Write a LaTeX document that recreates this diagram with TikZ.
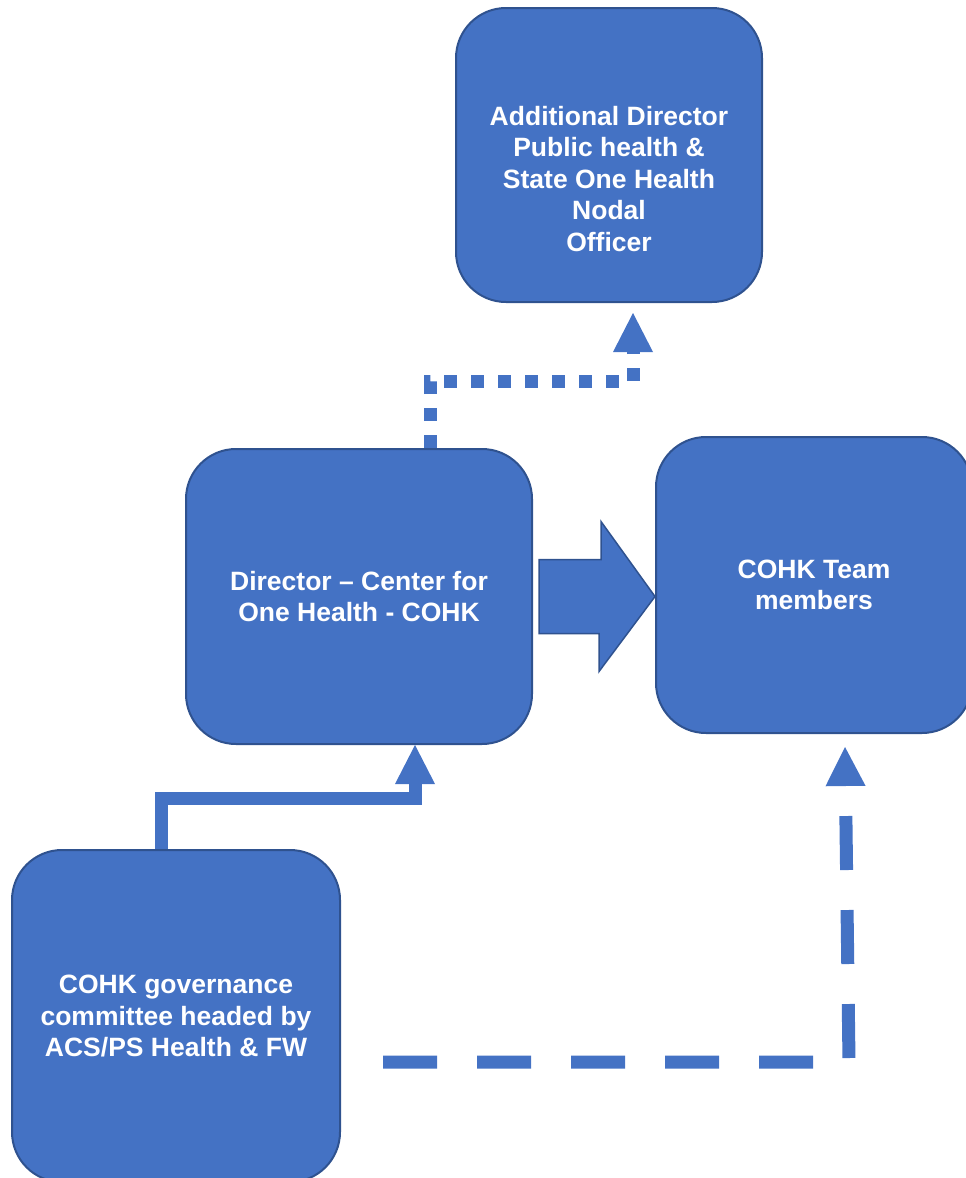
\documentclass[tikz,border=0pt]{standalone}
\usepackage{fontspec}
\setmainfont{Liberation Sans}
\usetikzlibrary{arrows.meta,positioning}
\definecolor{boxblue}{HTML}{4472C4}
\definecolor{boxline}{HTML}{2F528F}

\begin{document}
\begin{tikzpicture}[x=1pt, y=-1pt,
  box/.style={draw=boxline, fill=boxblue, line width=2pt, rounded corners=50pt, inner sep=0pt},
  boxtext/.style={text=white, font=\fontsize{26.5}{31.5}\selectfont\bfseries, align=center},
  arrowhead/.style={-{Triangle[width=40pt, length=39pt, line width=0pt]}},
  conn/.style={boxblue, line width=13pt, arrowhead}]

  \useasboundingbox (0,0) rectangle (966,1178);

  \node[box, minimum width=306pt, minimum height=294pt] (addl) at (609,155) {};
  \node[boxtext] (addltext) at ([yshift=-24pt]addl.center) {Additional Director\\Public health \&\\State One Health\\Nodal\\Officer};
  \node[box, boxtext, minimum width=346pt, minimum height=295pt] (dir) at (359,596.5) {Director – Center for\\One Health - COHK};
  \node[box, boxtext, minimum width=316pt, minimum height=296pt] (team) at (814,585) {COHK Team\\members};
  \node[box, boxtext, minimum width=328pt, minimum height=332pt] (gov) at (176,1016) {COHK governance\\committee headed by\\ACS/PS Health \& FW};

  %% dir->team (block arrow)
  \draw[draw=boxline, fill=boxblue, line width=1.5pt]
    ([xshift=6pt,yshift=37pt]dir.east) -- ++(62,0) -- ++(0,-38) -- (dir.east -| team.west)
    -- ++(-56,75) -- ++(0,-38) -- ([xshift=6pt,yshift=-37pt]dir.east) -- cycle;

  %% dir->addl
  \draw[conn, dash pattern=on 13pt off 14pt, shorten >=10pt]
    ([xshift=71pt]dir.north) |- ([xshift=24pt,yshift=-78pt]addl.south) -- ([xshift=24pt]addl.south);

  %% gov->dir
  \draw[conn] ([xshift=-15pt]gov.north) |- ([xshift=56pt,yshift=-53pt]dir.south) -- ([xshift=56pt]dir.south);

  %% gov->team
  \draw[conn, dash pattern=on 54pt off 40pt]
    ([xshift=42pt,yshift=-46pt]gov.east) -- ++(466,0) -- ([xshift=31pt,yshift=-13pt]team.south);
\end{tikzpicture}
\end{document}
